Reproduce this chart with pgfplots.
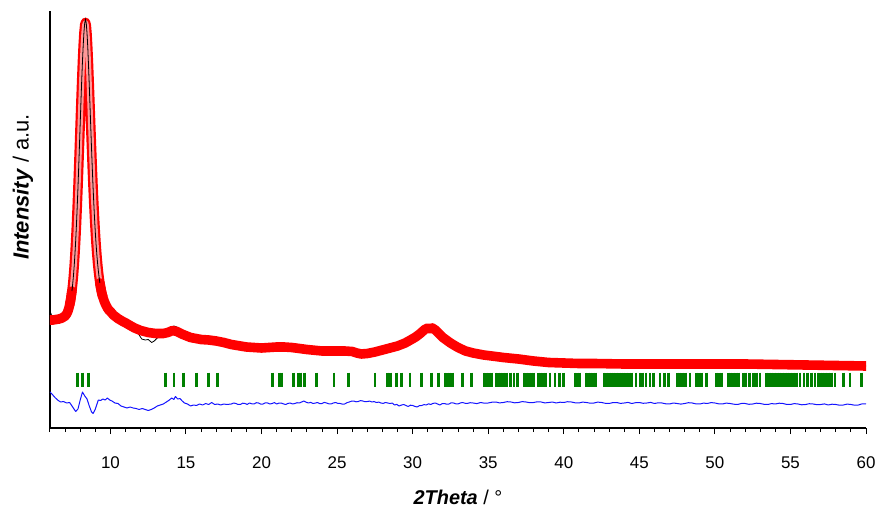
\documentclass[border=0pt]{standalone}
\usepackage{fontspec}
\setmainfont{Liberation Sans}
\usepackage{pgfplots}
\usepackage{pgfplotstable}
\pgfplotsset{compat=1.18}
\definecolor{pgreen}{RGB}{0,128,0}
\definecolor{pblue}{RGB}{20,20,255}
\definecolor{pred}{RGB}{255,0,0}

\pgfplotstableread{
x y
6.0 108
6.2 108
6.4 108.5
6.6 109
6.8 110
7.0 112
7.05 113
7.1 114
7.15 115.5
7.2 117.5
7.25 120
7.3 123
7.35 126.8
7.4 131.6
7.45 137.0
7.5 143.7
7.55 151.9
7.6 161.8
7.65 173.6
7.7 187.3
7.75 203.1
7.8 220.7
7.85 240.1
7.9 261.0
7.95 282.8
8.0 305.1
8.05 327.2
8.1 348.1
8.15 367.1
8.2 383.3
8.25 395.6
8.3 403.3
8.35 405.5
8.4 402.8
8.45 393.8
8.5 379.9
8.55 362.3
8.6 342.3
8.65 321.2
8.7 299.9
8.75 279.0
8.8 259.3
8.85 240.8
8.9 224.1
8.95 208.9
9.0 195.5
9.05 183.6
9.1 173.4
9.15 164.6
9.2 157.0
9.25 150.7
9.3 145.2
9.35 140.7
9.4 136.8
9.45 133.5
9.5 130.8
9.6 126.3
9.7 122.9
9.8 120.0
9.9 117.8
10.0 116.4
10.2 112.9
10.5 109.4
10.8 106.7
11.0 105.2
11.3 102.5
11.6 100
12.0 97.5
12.5 95.5
13.0 94.5
13.5 94.5
13.8 95.5
14.1 97.5
14.4 96.5
14.8 93.5
15.3 90.5
16.0 88.5
16.5 88
17.0 87
17.5 85.5
18.0 83.5
19.0 81
20.0 80
20.5 80.5
21.0 81
21.5 81
22.0 80.5
23.0 78.5
24.0 77
25.0 77
25.5 77
26.0 76.5
26.3 75
26.6 74
27.0 74.5
27.5 76
28.0 78
28.5 80
29.0 82
29.5 85
29.8 87.5
30.2 91
30.5 94.5
30.8 98.5
31.0 100
31.15 99
31.3 100
31.5 98
31.7 95
32.0 90.5
32.5 85
33.0 80.5
33.5 77
34.0 75
34.7 73
35.5 71.5
36.0 70.5
37.0 69
38.0 67
39.0 65.5
40.0 65
41.0 64.5
42.0 64.5
44.0 64
46.0 64
48.0 64
50.0 64
52.0 64
54.0 63.5
56.0 63
58.0 62.5
60.0 62
}\calc

\pgfplotstableread{
x y
6.0 117
6.1 113
6.2 110
6.3 108.5
6.6 109
6.8 110
7.0 112
7.1 114
7.2 117.5
7.3 123
7.35 126.8
7.4 131.6
7.45 137.0
7.5 143.7
7.55 151.9
7.6 161.8
7.65 173.6
7.7 187.3
7.75 203.1
7.8 220.7
7.85 240.1
7.9 261.0
7.95 282.8
8.0 305.1
8.05 327.2
8.1 348.1
8.15 367.1
8.2 383.3
8.25 396.6
8.3 405.3
8.35 408.5
8.4 404.8
8.45 394.8
8.5 380.9
8.55 362.3
8.6 342.3
8.65 321.2
8.7 299.9
8.75 279.0
8.8 259.3
8.85 240.8
8.9 224.1
8.95 208.9
9.0 195.5
9.05 183.6
9.1 173.4
9.15 164.6
9.2 157.0
9.25 150.7
9.3 145.2
9.35 140.7
9.4 136.8
9.5 130.8
9.7 122.9
10.0 116.4
10.5 109.4
11.0 105.2
11.6 99
11.9 93
12.07 89
12.3 88
12.5 88.5
12.73 85.5
12.9 87
13.1 90
13.4 92.5
13.7 96
14.0 100.5
14.2 102
14.4 101
14.7 96
15.0 92.5
15.3 90.5
16.0 88.5
17.0 87
18.0 83.5
20.0 80
22.0 80.5
24.0 77
26.0 76.5
27.0 74.5
29.0 82
31.0 100
32.0 90.5
34.0 75
36.0 70.5
40.0 65
50.0 64
60.0 62
}\obs

\pgfplotstableread{
x y
6.0 36
6.1 34.5
6.3 31
6.5 28
6.7 26
6.9 26.5
7.1 25
7.3 25.5
7.5 21
7.7 16.5
7.85 19
8.0 28
8.15 36
8.3 32
8.45 29
8.6 22
8.75 16
8.85 14.5
9.0 19
9.2 28
9.35 27.5
9.5 29
9.65 28
9.8 30
9.95 28
10.1 27
10.3 25
10.5 24.5
10.7 22
10.9 21
11.1 20
11.3 21
11.5 20
11.7 19.5
11.9 18.5
12.1 19.5
12.3 18.5
12.5 17.5
12.7 18.5
12.9 20
13.1 22
13.3 23
13.5 24
13.7 26
13.9 28
14.05 30
14.2 28.5
14.3 31.5
14.45 29
14.6 29.5
14.75 27
14.9 25
15.1 24
15.3 22
15.5 23
15.7 22.5
15.9 24
16.1 23
16.3 24.5
16.5 23.5
16.7 25.5
16.9 23.5
17.1 24
17.3 23
17.5 24
17.7 23.5
18.0 24
18.15 25
18.3 24.5
18.45 23.5
18.6 23.5
18.75 24.8
18.9 24.5
19.05 23.6
19.2 25
19.35 24.2
19.5 24
19.65 25.3
19.8 25
19.95 23.8
20.1 24
20.25 25.2
20.4 25
20.55 24
20.7 24.5
20.85 25.4
21.0 24
21.15 24.9
21.3 25
21.45 24.1
21.6 23.5
21.75 24.6
21.9 25
22.05 24
22.2 24.5
22.35 25.3
22.5 25
22.65 26
22.8 27
22.95 25.8
23.1 25
23.25 25.6
23.4 24.5
23.55 24.9
23.7 25.5
23.85 24.4
24.0 24.5
24.15 25.6
24.3 25
24.45 24.2
24.6 24
24.75 25
24.9 25.5
25.05 24.6
25.2 24.5
25.35 23.9
25.5 24
25.65 25.3
25.8 26
25.95 26.8
26.1 27
26.25 26.2
26.4 26.5
26.55 27.4
26.7 27
26.85 26.3
27.0 26.5
27.15 26.9
27.3 26
27.45 26.4
27.6 25.5
27.75 25.9
27.9 25
28.05 24.6
28.2 25.5
28.35 25
28.5 24.5
28.65 24.9
28.8 23
28.95 23.6
29.1 22
29.25 22.9
29.4 23.5
29.55 22.6
29.7 21.5
29.85 22.8
30.0 22.5
30.15 21.6
30.3 21
30.45 22.4
30.6 22.5
30.75 23.4
30.9 23
31.05 24.2
31.2 23.5
31.35 24.6
31.5 25
31.65 24
31.8 23
31.95 24.3
32.1 24.5
32.25 23.8
32.4 24
32.55 25.2
32.7 25
32.85 24.2
33.0 24
33.15 25
33.3 25.5
33.45 24.8
33.6 24.5
33.8 25.3
34.0 25
34.25 24.4
34.5 25.5
34.75 24.8
35.0 25
35.25 25.8
35.5 26
35.75 25.1
36.0 25.5
36.25 26.3
36.5 26
36.75 25.2
37.0 25.5
37.25 26.4
37.5 26
37.75 25.3
38.0 25.5
38.25 26.2
38.5 26
38.75 25.1
39.0 25.5
39.25 26
39.5 25
39.75 25.8
40.0 25.5
40.25 26.3
40.5 26
40.75 25.2
41.0 25
41.25 25.9
41.5 25.5
41.75 24.8
42.0 25
42.25 25.9
42.5 25.5
42.75 24.7
43.0 24.5
43.25 25.4
43.5 25.5
43.75 24.6
44.0 25
44.25 25.6
44.5 24.5
44.75 25.3
45.0 25.5
45.25 24.7
45.5 25
45.75 25.6
46.0 24.5
46.25 25.2
46.5 25
46.75 24.2
47.0 24
47.25 25
47.5 24.5
47.75 23.9
48.0 24.5
48.25 25.3
48.5 25
48.75 24.1
49.0 24
49.25 24.9
49.5 24.5
49.75 25.4
50.0 25
50.25 24.2
50.5 24
50.75 24.9
51.0 24.5
51.25 23.8
51.5 23.5
51.75 24.5
52.0 24.5
52.25 23.7
52.5 24
52.75 24.8
53.0 24.5
53.25 23.7
53.5 23.5
53.75 24.4
54.0 24
54.25 24.8
54.5 24.5
54.75 23.6
55.0 23.5
55.25 24.4
55.5 24
55.75 23.2
56.0 23.5
56.25 24.3
56.5 24
56.75 23.3
57.0 23.5
57.25 24.1
57.5 23
57.75 23.8
58.0 23.5
58.25 22.8
58.5 23
58.75 23.9
59.0 23.5
59.25 22.8
59.5 23
59.75 24.2
60.0 24
}\diff

\begin{document}
\begin{tikzpicture}
\begin{axis}[
  scale only axis, width=816bp, height=417bp,
  xmin=6, xmax=60, ymin=0, ymax=417,
  axis x line*=bottom, axis y line*=left,
  axis line style={line width=1.3bp, -},
  ytick=\empty,
  xtick={10,15,...,60},
  minor xtick={6,7,...,60},
  tick align=outside, major tick length=6bp, minor tick length=4bp,
  every tick/.style={black, line width=1bp},
  /pgf/number format/assume math mode=true,
  xticklabel style={font=\fontsize{17}{20}\selectfont, yshift=-19bp},
  xlabel={\textbf{\textit{2Theta}} / °},
  xlabel style={font=\fontsize{20}{24}\selectfont, at={(axis description cs:0.5,-0.166)}, anchor=center},
  ylabel={\textbf{\textit{Intensity}} / a.u.},
  ylabel style={font=\fontsize{22}{26}\selectfont, at={(axis description cs:-0.033,0.578)}, anchor=center, rotate=0},
]
% observed (under)
\addplot[black, line width=0.8bp] table[x=x,y=y] {\obs};
% calculated: peak as ring chain
\addplot[draw=pred, line width=2.2bp, double=pred!40, double distance=5.2bp, line join=round, restrict x to domain=7.3:9.55] table[x=x,y=y] {\calc};
% calculated: dense flat parts
\addplot[pred, line width=9.6bp, line join=round, line cap=round, restrict x to domain=6:7.45] table[x=x,y=y] {\calc};
\addplot[pred, line width=9.6bp, line join=round, line cap=round, restrict x to domain=9.3:60] table[x=x,y=y] {\calc};
% observed on top in peak region
\addplot[black, line width=0.8bp, restrict x to domain=7.45:9.3] table[x=x,y=y] {\obs};
% reflection positions
\addplot[only marks, mark=|, mark size=7bp, mark options={line width=2.6bp, draw=pgreen}] coordinates {
(7.83,48.3) (8.16,48.3) (8.53,48.3) (13.66,48.3) (14.21,48.3) (14.82,48.3) (15.71,48.3) (16.48,48.3) (17.10,48.3)
(20.74,48.3) (21.18,48.3) (21.35,48.3) (22.10,48.3) (22.43,48.3) (22.59,48.3) (22.83,48.3) (23.65,48.3) (24.79,48.3)
(25.74,48.3) (27.51,48.3) (28.35,48.3) (28.55,48.3) (28.94,48.3) (29.27,48.3) (29.82,48.3) (30.60,48.3) (31.26,48.3)
(31.70,48.3) (32.14,48.3) (32.29,48.3) (32.47,48.3) (32.65,48.3) (33.31,48.3) (33.90,48.3) (34.72,48.3) (34.90,48.3)
(35.07,48.3) (35.23,48.3) (35.52,48.3) (35.67,48.3) (35.83,48.3) (36.00,48.3) (36.22,48.3) (36.49,48.3) (36.71,48.3)
(36.93,48.3) (37.37,48.3) (37.55,48.3) (37.72,48.3) (37.88,48.3) (38.03,48.3) (38.32,48.3) (38.49,48.3) (38.65,48.3)
(38.82,48.3) (39.09,48.3) (39.42,48.3) (39.70,48.3) (39.97,48.3) (40.74,48.3) (40.90,48.3) (41.07,48.3) (41.47,48.3)
(41.62,48.3) (41.80,48.3) (41.95,48.3) (42.13,48.3) (42.66,48.3) (42.84,48.3) (43.01,48.3) (43.17,48.3) (43.32,48.3)
(43.50,48.3) (43.67,48.3) (43.83,48.3) (43.99,48.3) (44.16,48.3) (44.34,48.3) (44.52,48.3) (44.78,48.3) (45.04,48.3)
(45.22,48.3) (45.44,48.3) (45.71,48.3) (45.92,48.3) (46.37,48.3) (46.65,48.3) (46.92,48.3) (47.51,48.3) (47.69,48.3)
(47.87,48.3) (48.04,48.3) (48.35,48.3) (48.80,48.3) (48.97,48.3) (49.15,48.3) (49.46,48.3) (50.12,48.3) (50.29,48.3)
(50.47,48.3) (50.89,48.3) (51.07,48.3) (51.24,48.3) (51.42,48.3) (51.60,48.3) (51.88,48.3) (52.06,48.3) (52.28,48.3)
(52.54,48.3) (52.77,48.3) (52.99,48.3) (53.43,48.3) (53.60,48.3) (53.78,48.3) (53.96,48.3) (54.13,48.3) (54.31,48.3)
(54.49,48.3) (54.66,48.3) (54.84,48.3) (55.02,48.3) (55.19,48.3) (55.41,48.3) (55.63,48.3) (55.90,48.3) (56.12,48.3)
(56.41,48.3) (56.63,48.3) (56.81,48.3) (56.98,48.3) (57.16,48.3) (57.33,48.3) (57.51,48.3) (57.73,48.3) (57.95,48.3)
(58.50,48.3) (58.94,48.3) (59.71,48.3)
};
% difference
\addplot[pblue, line width=1bp, line join=round] table[x=x,y=y] {\diff};
\end{axis}
\pgfresetboundingbox
\path ([shift={(-50bp,-82bp)}]current axis.south west) rectangle ([shift={(15bp,11bp)}]current axis.north east);
\end{tikzpicture}
\end{document}
